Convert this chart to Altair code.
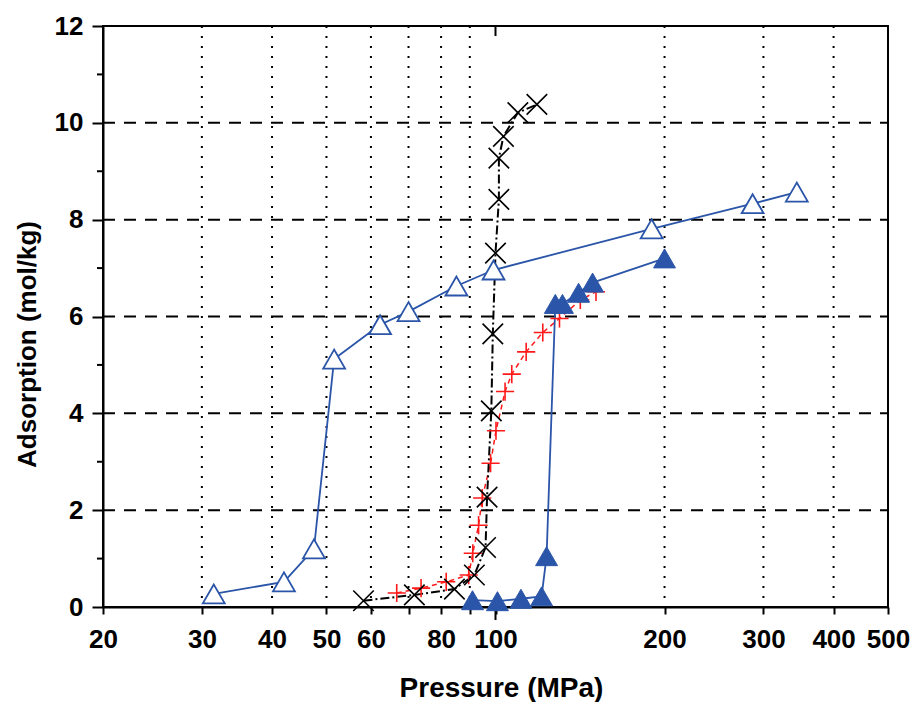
import altair as alt
import pandas as pd

# ---- data ----
open_p = [31.5, 42.0, 47.5, 51.6, 62.3, 70.0, 85.2, 99.2, 189.7, 287.0, 344.0]
open_a = [0.27, 0.52, 1.20, 5.12, 5.83, 6.10, 6.63, 6.96, 7.81, 8.33, 8.57]

filled_p = [91.0, 100.8, 111.0, 120.8, 123.3, 127.8, 131.6, 140.6, 148.9, 200.0]
filled_a = [0.14, 0.12, 0.17, 0.22, 1.05, 6.26, 6.26, 6.49, 6.70, 7.20]

cross_p = [58.2, 71.7, 84.5, 91.7, 96.0, 96.6, 98.3, 98.9, 100.0, 101.4, 101.4, 103.3, 109.6, 118.5]
cross_a = [0.13, 0.25, 0.37, 0.66, 1.23, 2.27, 4.05, 5.64, 7.31, 8.42, 9.27, 9.72, 10.21, 10.38]

plus_p = [66.7, 73.7, 81.7, 89.6, 91.1, 93.3, 94.7, 98.0, 100.2, 104.0, 106.9, 113.4, 121.4, 130.0, 141.6, 151.0]
plus_a = [0.29, 0.39, 0.52, 0.66, 1.11, 1.69, 2.25, 2.97, 3.64, 4.45, 4.81, 5.27, 5.67, 5.96, 6.34, 6.51]

x_ticks = [20, 30, 40, 50, 60, 70, 80, 90, 100, 200, 300, 400, 500]
x_grid = [30, 40, 50, 60, 70, 80, 90, 200, 300, 400]
y_ticks = [0, 2, 4, 6, 8, 10, 12]
y_grid = [2, 4, 6, 8, 10]
y_minor = [1, 3, 5, 7, 9, 11]
x_major = [100]

BLUE = "#2b55a8"
RED = "#ff1a1a"
FONT = "Liberation Sans"

def series(p, a):
    return pd.DataFrame({"P": p, "A": a, "i": list(range(len(p)))})

xs = alt.Scale(type="log", domain=[20, 500], nice=False)
ys = alt.Scale(domain=[0, 12], nice=False, zero=False)

XAXIS = alt.Axis(
    values=x_ticks, format="d", title="Pressure (MPa)", tickSize=7,
    labelPadding=12, labelFlush=False, labelOverlap=False,
    labelExpr="(datum.value == 70 || datum.value == 90) ? '' : datum.label",
    titleX=398, titleY=89, titleAlign="center", titleBaseline="alphabetic",
    titleFontSize=28)
YAXIS = alt.Axis(
    values=y_ticks, title="Adsorption (mol/kg)", tickSize=11, labelPadding=9,
    titleX=-68, titleY=318, titleAngle=-90, titleAlign="center",
    titleBaseline="alphabetic", titleFontSize=26)

def XF(f):
    return alt.X(f, scale=xs, axis=XAXIS)

def YF(f):
    return alt.Y(f, scale=ys, axis=YAXIS)

hgrid = alt.Chart(pd.DataFrame({"v": y_grid})).mark_rule(
    color="black", strokeWidth=2, strokeDash=[12, 9]
).encode(y=YF("v:Q"), x=alt.value(0), x2=alt.value(785))

vgrid = alt.Chart(pd.DataFrame({"v": x_grid})).mark_rule(
    color="black", strokeWidth=2, strokeDash=[2, 8]
).encode(x=XF("v:Q"), y=alt.value(0), y2=alt.value(581))

minor_y = alt.Chart(pd.DataFrame({"v": y_minor})).mark_rule(
    color="black", strokeWidth=2
).encode(y=YF("v:Q"), x=alt.value(-6), x2=alt.value(0))

major_x_bottom = alt.Chart(pd.DataFrame({"v": x_major})).mark_rule(
    color="black", strokeWidth=2
).encode(x=XF("v:Q"), y=alt.value(581), y2=alt.value(594))

major_x_top = alt.Chart(pd.DataFrame({"v": x_major})).mark_rule(
    color="black", strokeWidth=2
).encode(x=XF("v:Q"), y=alt.value(0), y2=alt.value(10))

def enc(ch):
    return ch.encode(x=XF("P:Q"), y=YF("A:Q"), order=alt.Order("i:Q"))

d_open = series(open_p, open_a)
d_fill = series(filled_p, filled_a)
d_cross = series(cross_p, cross_a)
d_plus = series(plus_p, plus_a)

open_line = enc(alt.Chart(d_open).mark_line(color=BLUE, strokeWidth=1.8))
fill_line = enc(alt.Chart(d_fill).mark_line(color=BLUE, strokeWidth=1.8))
cross_line = enc(alt.Chart(d_cross).mark_line(color="black", strokeWidth=2, strokeDash=[9, 3, 2, 3]))
plus_line = enc(alt.Chart(d_plus).mark_line(color=RED, strokeWidth=1.5, strokeDash=[5, 4]))

open_pts = enc(alt.Chart(d_open).mark_point(
    shape="triangle-up", size=480, filled=True, fill="white", stroke=BLUE,
    strokeWidth=1.8, opacity=1))
fill_pts = enc(alt.Chart(d_fill).mark_point(
    shape="triangle-up", size=480, filled=True, fill=BLUE, stroke=BLUE,
    strokeWidth=1, opacity=1))
cross_pts = enc(alt.Chart(d_cross).mark_point(
    shape="M-1,-1L1,1M-1,1L1,-1", size=420, filled=False, stroke="black",
    strokeWidth=1.6, opacity=1))
plus_pts = enc(alt.Chart(d_plus).mark_point(
    shape="M-1,0L1,0M0,-1L0,1", size=330, filled=False, stroke=RED,
    strokeWidth=1.6, opacity=1))

chart = alt.layer(
    hgrid, vgrid, minor_y, major_x_bottom, major_x_top,
    plus_line, cross_line, fill_line, open_line,
    plus_pts, cross_pts, fill_pts, open_pts,
).properties(
    width=785, height=581,
    autosize=alt.AutoSizeParams(type="none"),
    padding={"left": 103, "top": 26, "right": 29, "bottom": 95},
    background="white",
).configure_view(
    stroke="black", strokeWidth=2
).configure_axis(
    grid=False, domainColor="black", domainWidth=2, tickColor="black", tickWidth=2,
    labelFont=FONT, labelFontWeight="bold", labelFontSize=26, labelColor="black",
    titleFont=FONT, titleFontWeight="bold", titleColor="black",
)

chart.save("out.html", embed_options={"renderer": "svg", "actions": False})
